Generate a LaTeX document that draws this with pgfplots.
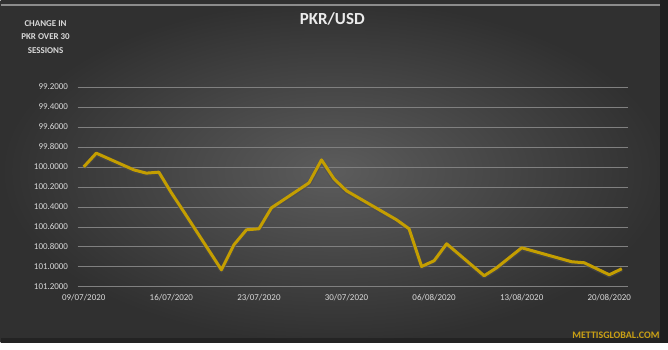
\documentclass[border=0pt]{standalone}
\usepackage{fontspec}
\setmainfont{Carlito}
\usepackage{pgfplots}
\pgfplotsset{compat=1.18}
\definecolor{linegold}{RGB}{196,158,0}
\definecolor{ticktxt}{RGB}{217,217,217}
\definecolor{gridc}{RGB}{128,128,128}
\definecolor{wm}{RGB}{201,160,20}
\begin{document}
\begin{tikzpicture}[x=1bp,y=1bp]
% background
\fill[white] (0,0) rectangle (668,350);
\shade[inner color={rgb,255:red,92;green,92;blue,92}, outer color={rgb,255:red,48;green,48;blue,48}] (0,7) rectangle (668,350);
\fill[black,opacity=0.35] (660,7) rectangle (668,350);
\fill[black,opacity=0.25] (0,7) rectangle (660,12);
\draw[white!55!black,line width=1.2bp] (0,345) -- (660,345);
\begin{axis}[
  at={(77bp,63bp)}, anchor=south west,
  scale only axis, width=551bp, height=200bp,
  xmin=-0.5, xmax=43.5,
  ymin=99.2, ymax=101.2, y dir=reverse,
  ytick={99.2,99.4,...,101.21},
  xtick={0,7,14,21,28,35,42},
  xticklabels={09/07/2020,16/07/2020,23/07/2020,30/07/2020,06/08/2020,13/08/2020,20/08/2020},
  axis line style={draw=none},
  major tick length=0pt,
  ymajorgrids, grid style={gridc, line width=0.6bp},
  tick label style={font=\fontsize{9}{10}\selectfont, text=ticktxt},
  /pgf/number format/assume math mode=true,
  yticklabel={\pgfmathprintnumber[fixed,fixed zerofill,precision=4,1000 sep={}]{\tick}},
  yticklabel style={xshift=-6bp},
  xticklabel style={yshift=-4bp},
  clip=false,
]
\addplot[black!70, opacity=0.6, line width=4.4bp, line join=round, yshift=-0.8bp] table {
x y
0 100.00
1 99.863
4 100.03
5 100.063
6 100.053
7 100.26
8 100.45
11 101.03
12 100.78
13 100.63
14 100.62
15 100.41
18 100.16
19 99.93
20 100.12
21 100.24
25 100.53
26 100.62
27 100.997
28 100.94
29 100.77
32 101.09
33 101.01
34 100.91
35 100.81
39 100.95
40 100.96
41 101.02
42 101.08
43 101.02
};
\addplot[linegold, line width=3bp, line join=round] table {
x y
0 100.00
1 99.863
4 100.03
5 100.063
6 100.053
7 100.26
8 100.45
11 101.03
12 100.78
13 100.63
14 100.62
15 100.41
18 100.16
19 99.93
20 100.12
21 100.24
25 100.53
26 100.62
27 100.997
28 100.94
29 100.77
32 101.09
33 101.01
34 100.91
35 100.81
39 100.95
40 100.96
41 101.02
42 101.08
43 101.02
};
\end{axis}
\node[font=\bfseries\fontsize{17}{19}\selectfont, text=white!92!black] at (332,331) {PKR/USD};
\node[font=\bfseries\fontsize{9}{13.5}\selectfont, text=ticktxt, align=center] at (45,313) {CHANGE IN\\PKR OVER 30\\SESSIONS};
\node[font=\bfseries\fontsize{10}{11}\selectfont, text=wm, anchor=east] at (663,14) {METTISGLOBAL.COM};
\end{tikzpicture}
\end{document}
